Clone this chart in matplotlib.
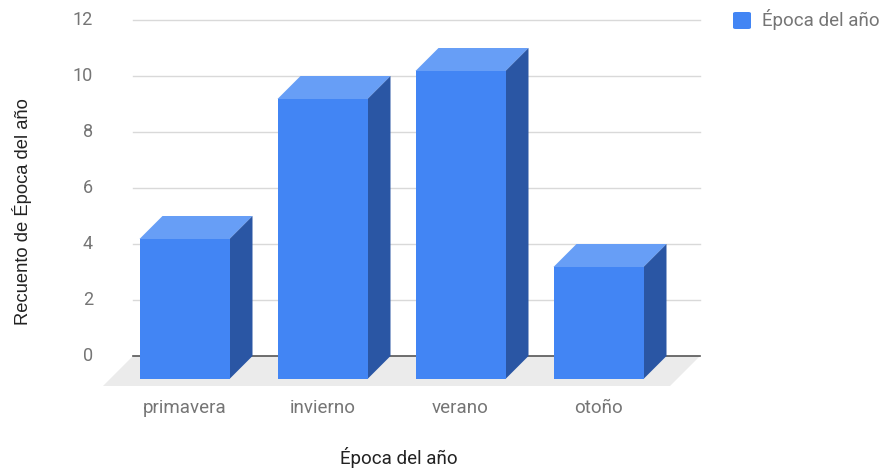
import matplotlib.pyplot as plt
from matplotlib.patches import Polygon, FancyBboxPatch

# Recuento por época del año
categorias = ['primavera', 'invierno', 'verano', 'otoño']
recuento = [5, 10, 11, 4]
y_ticks = [0, 2, 4, 6, 8, 10, 12]

W, H = 885, 470
fig = plt.figure(figsize=(W / 100, H / 100), dpi=100)

# axes = back plane of the 3D chart (pixel box 133..700 x 20..356)
ax = fig.add_axes([133 / W, (H - 356) / H, 567 / W, 336 / H])
px_x = 138.0   # pixels per category
px_y = 28.0    # pixels per unit
x0 = -(207.5 - 133) / px_x
ax.set_xlim(x0, x0 + 567 / px_x)
ax.set_ylim(0, 12)

c_front = '#4285f4'
c_top = '#679ef6'
c_side = '#2a56a4'
c_floor = '#ebebeb'

# depth offsets (front plane is shifted down/left)
dx = 23 / px_x
dy = 23 / px_y
bw = 90 / px_x

# floor
fd_x = 30 / px_x
fd_y = 30 / px_y
xl, xr = ax.get_xlim()
ax.add_patch(Polygon([(xl, 0), (xr, 0), (xr - fd_x, -fd_y), (xl - fd_x, -fd_y)],
                     closed=True, facecolor=c_floor, edgecolor='none',
                     clip_on=False, zorder=0))

# gridlines and baseline
for t in y_ticks:
    if t == 0:
        ax.plot([xl, xr], [0, 0], color='#555555', lw=1.2, zorder=1, clip_on=False)
    else:
        ax.plot([xl, xr], [t, t], color='#d9d9d9', lw=1.0, zorder=1, clip_on=False)
    ax.text(xl - 40 / px_x, t, str(t), ha='right', va='center',
            fontsize=13, color='#757575', family='Roboto')

for i, (cat, v) in enumerate(zip(categorias, recuento)):
    bl = i - bw / 2
    br = i + bw / 2
    # front face corners
    fl, fr = bl - dx, br - dx
    fb, ft = -dy, v - dy
    top = Polygon([(fl, ft), (fr, ft), (br, v), (bl, v)], closed=True,
                  facecolor=c_top, edgecolor='none', zorder=3, clip_on=False)
    side = Polygon([(fr, fb), (br, 0), (br, v), (fr, ft)], closed=True,
                   facecolor=c_side, edgecolor='none', zorder=3, clip_on=False)
    front = Polygon([(fl, fb), (fr, fb), (fr, ft), (fl, ft)], closed=True,
                    facecolor=c_front, edgecolor='none', zorder=4, clip_on=False)
    ax.add_patch(top)
    ax.add_patch(side)
    ax.add_patch(front)
    ax.text(i - dx, -52 / px_y, cat, ha='center', va='center',
            fontsize=13.5, color='#757575', family='Roboto')

ax.set_axis_off()

fig.text(399 / W, 1 - 458 / H, 'Época del año', ha='center', va='center',
         fontsize=13.5, color='#222222', family='Roboto')
fig.text(22 / W, 1 - 212 / H, 'Recuento de Época del año', ha='center', va='center',
         rotation=90, fontsize=13.2, color='#222222', family='Liberation Sans')

# legend
fig.patches.append(FancyBboxPatch((733 / W, 1 - 29 / H), 18 / W, 17 / H,
                                  boxstyle='round,pad=0,rounding_size=0.003',
                                  transform=fig.transFigure, facecolor=c_front,
                                  edgecolor='none'))
fig.text(762 / W, 1 - 20 / H, 'Época del año', ha='left', va='center',
         fontsize=13.5, color='#757575', family='Roboto')

fig.savefig('out.png', dpi=100)
